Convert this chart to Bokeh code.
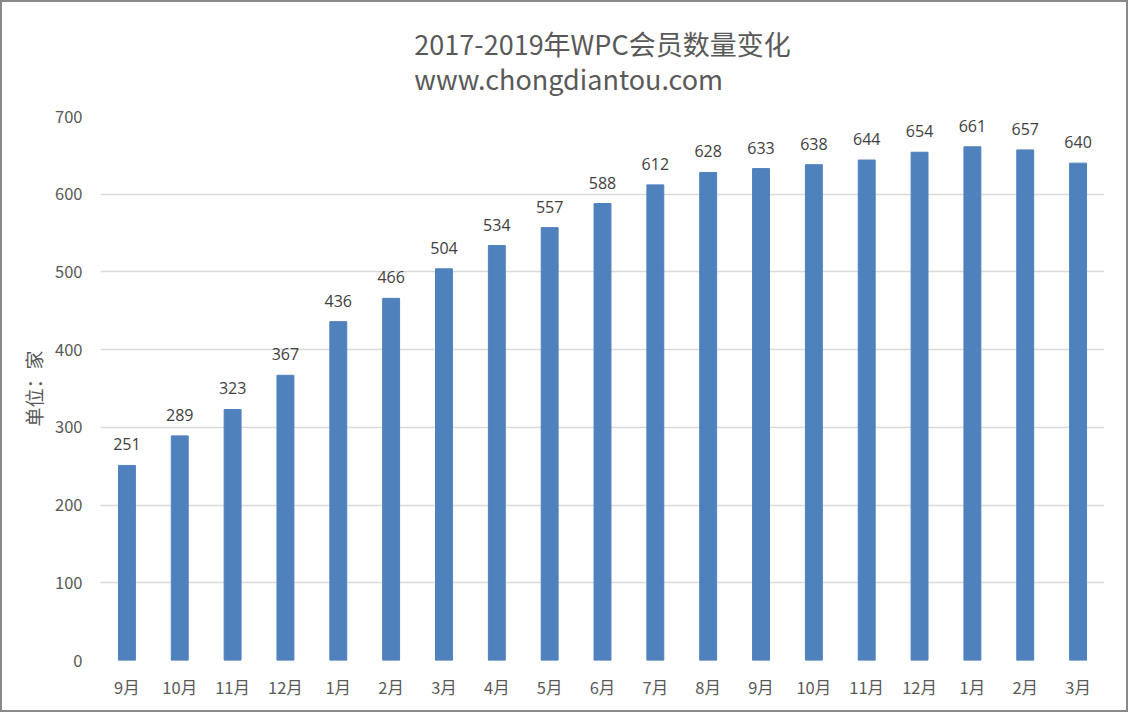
from bokeh.plotting import figure
from bokeh.models import ColumnDataSource, FixedTicker, Title, Range1d
from bokeh.embed import file_html
from bokeh.resources import INLINE
from bokeh.core.properties import value

months = ["9月", "10月", "11月", "12月", "1月", "2月", "3月", "4月", "5月", "6月",
          "7月", "8月", "9月", "10月", "11月", "12月", "1月", "2月", "3月"]
members = [251, 289, 323, 367, 436, 466, 504, 534, 557, 588,
           612, 628, 633, 638, 644, 654, 661, 657, 640]
y_ticks = [0, 100, 200, 300, 400, 500, 600, 700]

title_text = "2017-2019年WPC会员数量变化"
subtitle_text = "www.chongdiantou.com"
y_label = "单位：家"

idx = list(range(len(months)))
src = ColumnDataSource(dict(x=idx, top=members, lab=[str(v) for v in members]))

FONT = "Open Sans"
CJK = "Noto Sans CJK SC"

p = figure(width=1128, height=712, output_backend="svg", toolbar_location=None,
           x_range=Range1d(-0.5, len(months) - 0.5), y_range=Range1d(0, 700),
           min_border_left=98, min_border_right=26, min_border_top=114, min_border_bottom=54,
           background_fill_color="white", border_fill_color="white")

p.title = Title(text=title_text + "\n" + subtitle_text, text_font=CJK, text_font_size="27px",
                text_color="#595959", text_font_style="normal", align="center",
                text_line_height=0.91, standoff=37)

p.vbar(x="x", top="top", width=0.32, source=src, color="#4F81BD")
p.text(x="x", y="top", text="lab", source=src, text_align="center",
       text_baseline="bottom", y_offset=-15, text_font=value(FONT),
       text_font_size="16px", text_color="#404040")

p.outline_line_color = None
p.xgrid.grid_line_color = None
p.ygrid.grid_line_color = "#D9D9D9"
p.ygrid.grid_line_width = 1.5
p.yaxis.ticker = FixedTicker(ticks=y_ticks)
p.xaxis.ticker = FixedTicker(ticks=idx)
p.xaxis.major_label_overrides = {i: m for i, m in enumerate(months)}

for ax in (p.xaxis, p.yaxis):
    ax.axis_line_color = None
    ax.major_tick_line_color = None
    ax.minor_tick_line_color = None
    ax.major_label_text_color = "#595959"
    ax.major_label_text_font = CJK
    ax.major_label_text_font_size = "16.5px"

p.xaxis.major_label_standoff = 8
p.yaxis.major_label_standoff = 12
p.yaxis.axis_label = y_label
p.yaxis.axis_label_text_font = CJK
p.yaxis.axis_label_text_font_size = "19px"
p.yaxis.axis_label_text_font_style = "normal"
p.yaxis.axis_label_text_color = "#595959"
p.yaxis.axis_label_standoff = 5

p.styles = {"border": "2px solid #898989"}

open("out.html", "w").write(file_html(p, INLINE))
